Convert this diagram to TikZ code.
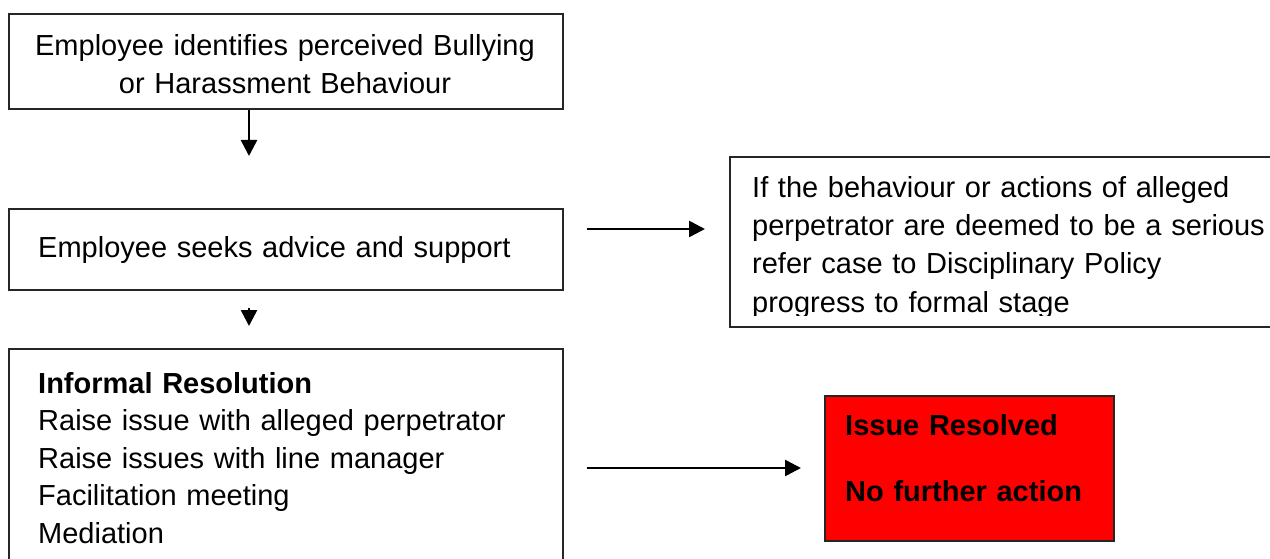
\documentclass[tikz,border=0pt]{standalone}
\usepackage{fontspec}
\setmainfont{Liberation Sans}
\usetikzlibrary{arrows.meta}
\begin{document}
\begin{tikzpicture}[x=1pt,y=-1pt,
  box/.style={draw=black!85, line width=1.6pt, anchor=north west, inner sep=0pt},
  txt/.style={anchor=base west, inner sep=0pt, align=left, text width=#1},
  txt/.default=520pt,
  arr/.style={line width=2.6pt, -{Triangle[length=16pt,width=16pt]}}]
\useasboundingbox (0,0) rectangle (1270,559);
% boxes
\node[box, minimum width=554pt, minimum height=95pt] (b1) at (8,13) {};
\node[box, minimum width=554pt, minimum height=81pt] (b2) at (8,208) {};
\node[box, minimum width=554pt, minimum height=230pt] (b3) at (8,348) {};
\node[box, minimum width=556pt, minimum height=170pt] (b4) at (729,156) {};
\node[box, fill=red, minimum width=289pt, minimum height=145pt] (b5) at (824,395) {};
% texts
\node[anchor=base, inner sep=0pt, align=center, text width=540pt,
  font=\fontsize{29}{38}\selectfont] (t1) at (285,56)
  {Employee identifies perceived Bullying\\or Harassment Behaviour};
\node[txt, font=\fontsize{29}{38}\selectfont] (t2) at (38,258)
  {Employee seeks advice and support};
\node[txt, font=\fontsize{29}{37.5}\selectfont] (t3) at (38,393)
  {\textbf{Informal Resolution}\\Raise issue with alleged perpetrator\\Raise issues with line manager\\Facilitation meeting\\Mediation};
\begin{scope}
\clip (729,156) rectangle (1285,315);
\node[txt, font=\fontsize{29}{38.5}\selectfont] (t4) at (752,197)
  {If the behaviour or actions of alleged\\perpetrator are deemed to be a serious\\refer case to Disciplinary Policy\\progress to formal stage};
\end{scope}
\node[txt=260pt, font=\bfseries\fontsize{29}{33}\selectfont] (t5) at (845,435)
  {Issue Resolved\\[33pt]No further action};
% arrows
\coordinate (ax) at (249,0);
\coordinate (ay) at (0,229);
\coordinate (by) at (0,468);
\draw[arr, shorten >=52pt] (b1.south -| ax) -- (b2.north -| ax);
\draw[arr, shorten <=17pt, shorten >=22pt] (b2.south -| ax) -- (b3.north -| ax);
\draw[arr, shorten <=23pt, shorten >=24pt] (b2.east |- ay) -- (b4.west |- ay);
\draw[arr, shorten <=23pt, shorten >=23pt] (b3.east |- by) -- (b5.west |- by);
\end{tikzpicture}
\end{document}
